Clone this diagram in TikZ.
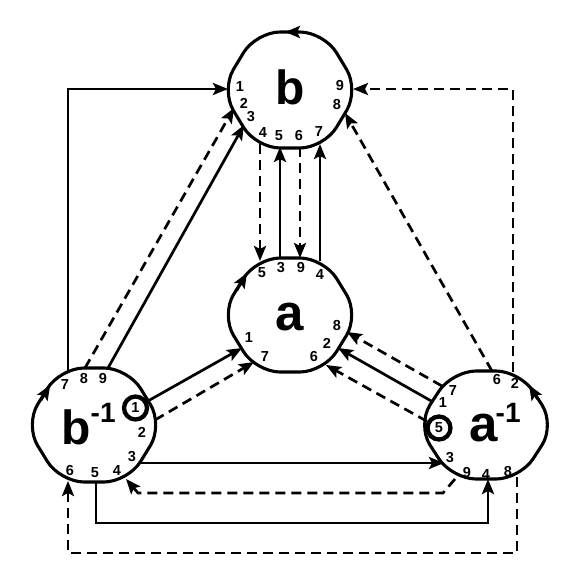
\documentclass[tikz,border=0pt]{standalone}
\usepackage{fontspec}
\setmainfont{Liberation Sans}
\usetikzlibrary{arrows.meta}
\newcommand{\hexo}[3]{%
  \draw[outline] (#1,#2-#3) -- (#1+34,#2-#3) -- (#1+69,#2) -- (#1+34,#2+#3)
    -- (#1-34,#2+#3) -- (#1-69,#2) -- (#1-34,#2-#3) -- (#1+0.5,#2-#3);}
\begin{document}
\begin{tikzpicture}[x=1pt,y=-1pt,
  outline/.style={line width=3.1pt, rounded corners=24pt, line join=round, line cap=round},
  conn/.style={line width=2.7pt, -{Stealth[length=15pt,width=12pt,inset=3pt]}},
  dconn/.style={conn, dash pattern=on 10pt off 6pt},
  lab/.style={font=\fontsize{14.5}{15}\selectfont\bfseries, inner sep=0pt},
  bigb/.style={font=\fontsize{48}{50}\selectfont\bfseries, inner sep=0pt, anchor=base},
  biga/.style={font=\fontsize{51}{52}\selectfont\bfseries, inner sep=0pt, anchor=base},
  supx/.style={font=\fontsize{28}{30}\selectfont\bfseries, inner sep=0pt, anchor=base west},
  ring/.style={circle, draw, fill=white, line width=4.3pt, minimum size=23pt, inner sep=0pt,
    font=\fontsize{14.5}{15}\selectfont\bfseries}
]
\useasboundingbox (0,0) rectangle (581,581);

% outlines
\hexo{290}{90}{58}
\hexo{290}{315}{57}
\hexo{94}{425}{57}
\hexo{486}{425}{54}

% direction markers on outlines
\draw[conn] (302,32) -- (285,32);
\draw[conn] (40.8,400.4) -- (50.2,385);
\draw[conn] (236.7,290.4) -- (247,273);
\draw[conn] (537.5,399) -- (529,385);

% big labels
\node[bigb] (b) at (290,104) {b};
\node[biga] (a) at (290,330) {a};
\node[bigb] (binv) at (76,444) {b};
\node[supx] (binvs) at (90.5,422) {-1};
\node[biga] (ainv) at (484,441) {a};
\node[supx] (ainvs) at (495.5,422) {-1};

% small labels
\foreach \n/\x/\y in {1/240/87, 2/244/103, 3/251/117, 4/263/133, 5/279/136, 6/299/136, 7/319/132, 8/337/105, 9/340/86}
  \node[lab] (lb\n) at (\x,\y) {\n};
\foreach \n/\x/\y in {5/262/273, 3/281/268, 9/301/268, 4/320/275, 8/337/326, 2/327/343, 6/314/357, 7/265/357, 1/249/338}
  \node[lab] (la\n) at (\x,\y) {\n};
\foreach \n/\x/\y in {7/65/385, 8/84/379, 9/103/379, 2/142/432, 3/132/457, 4/117/471, 5/95/473, 6/70/471}
  \node[lab] (lc\n) at (\x,\y) {\n};
\foreach \n/\x/\y in {6/497/380, 2/515/383, 7/453/391, 1/443/403, 3/450/458, 9/467/473, 4/486/475, 8/508/472}
  \node[lab] (ld\n) at (\x,\y) {\n};

% ports
\coordinate (bp1) at (228,89);  \coordinate (bp2) at (234,108); \coordinate (bp3) at (244,125);
\coordinate (bp4) at (260,144); \coordinate (bp5) at (280,147); \coordinate (bp6) at (300,147);
\coordinate (bp7) at (320,144); \coordinate (bp8) at (345,113); \coordinate (bp9) at (353,89);
\coordinate (ap5) at (260,261); \coordinate (ap3) at (280,258); \coordinate (ap9) at (300,258);
\coordinate (ap4) at (320,261); \coordinate (ap1) at (242,348); \coordinate (ap7) at (254,362);
\coordinate (ap8) at (347,332); \coordinate (ap2) at (338,348); \coordinate (ap6) at (326,365);
\coordinate (cp7) at (68,371);  \coordinate (cp8) at (85,368);  \coordinate (cp9) at (108,368);
\coordinate (cp2) at (155,420); \coordinate (cp3) at (139,463); \coordinate (cp4) at (126,479);
\coordinate (cp5) at (96,482);  \coordinate (cp6) at (68,481);
\coordinate (dp6) at (492,371); \coordinate (dp2) at (513,372); \coordinate (dp7) at (442,386);
\coordinate (dp1) at (433,402); \coordinate (dp3) at (444,463); \coordinate (dp9) at (455,479);
\coordinate (dp4) at (488,479); \coordinate (dp8) at (517,477);
\coordinate (m1) at (443,493);  \coordinate (m2) at (138,493);

% rings
\node[ring] (c1) at (135.5,408) {1};
\node[ring] (c5) at (439,428) {5};

% connectors
\draw[conn] (cp7) |- (bp1);
\draw[dconn] (cp8) -- (bp2);
\draw[conn] (cp9) -- (bp3);
\draw[dconn] (bp4) -- (ap5);
\draw[conn] (ap3) -- (bp5);
\draw[dconn] (bp6) -- (ap9);
\draw[conn] (ap4) -- (bp7);
\draw[dconn] (dp6) -- (bp8);
\draw[dconn] (dp2) |- (bp9);
\draw[dconn] (dp7) -- (ap8);
\draw[conn] (dp1) -- (ap2);
\draw[dconn] (c5) -- (ap6);
\draw[conn] (c1) -- (ap1);
\draw[dconn] (cp2) -- (ap7);
\draw[conn] (cp3) -- (dp3);
\draw[dconn] (dp9) -- (m1) -- (m2) -- (cp4);
\draw[conn] (cp5) -- ++(0,41) -| (dp4);
\draw[dconn] (dp8) -- ++(0,76) -| (cp6);
\end{tikzpicture}
\end{document}
